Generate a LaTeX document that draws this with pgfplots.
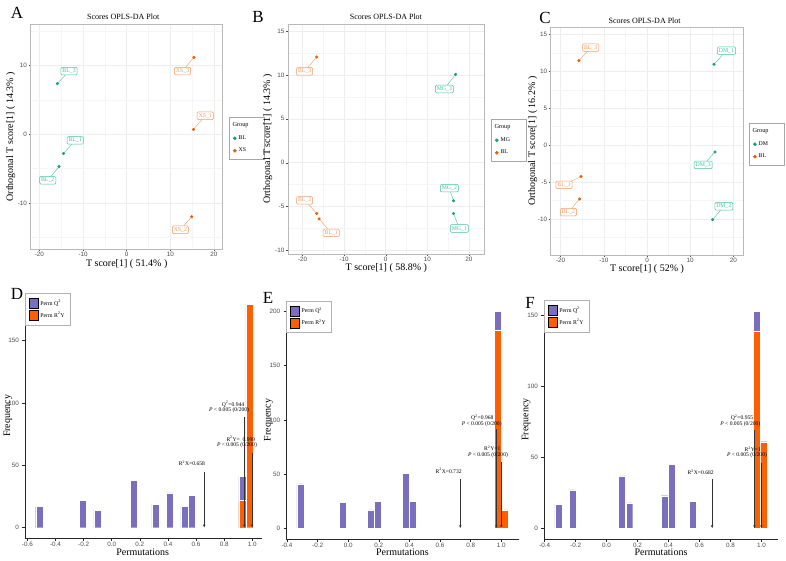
\documentclass[border=0pt]{standalone}
\usepackage{pgfplots}
\pgfplotsset{compat=1.18}
\usepackage{fontspec}
\setmainfont{Liberation Serif}
\newfontfamily\sansf{Liberation Sans}
\usetikzlibrary{arrows.meta}
\definecolor{dteal}{HTML}{1B9E77}
\definecolor{dorange}{HTML}{E2600A}
\definecolor{lteal}{HTML}{45C2A2}
\definecolor{lorange}{HTML}{EE9B62}
\definecolor{hpurple}{HTML}{7A6FBD}
\definecolor{horange}{HTML}{FF5F00}
\newcommand{\ticksf}{\sansf\fontsize{6.3}{7}\selectfont}
\newcommand{\labf}{\fontsize{5.8}{6.5}\selectfont}
\newcommand{\annf}{\fontsize{5.6}{6.5}\selectfont}
\newcommand{\grp}{\hspace*{-6pt}\makebox[27pt][l]{\fontsize{6.2}{7}\selectfont Group}}
\newcommand{\lab}[6]{%
  \draw[#1, line width=0.4pt] (axis cs:#2,#3) -- (axis cs:#4,#5);
  \node[draw=#1, text=#1, fill=white, rounded corners=1.2pt, inner sep=1.5pt, line width=0.5pt, font=\labf] at (axis cs:#4,#5) {#6};}
\newcommand{\arr}[3]{\draw[-{Latex[length=3pt,width=2.6pt]}, black!80, line width=0.8pt] (axis cs:#1,#2) -- (axis cs:#1,#3);}
\pgfplotsset{
  every axis title shift=0pt,
  scat/.style={scale only axis, anchor=south west, clip=false,
    axis line style={gray!55, line width=0.9pt},
    grid=both, major grid style={gray!14, line width=0.5pt}, minor grid style={gray!8, line width=0.3pt},
    minor tick length=0pt, major tick length=2pt, tick align=outside, tick pos=left,
    tick style={gray!60!black, line width=0.4pt},
    tick label style={font=\ticksf, text=gray!60!black},
    xticklabel style={inner sep=0.5pt}, yticklabel style={inner sep=1.5pt},
    /pgf/number format/assume math mode=true,
    xtick={-20,-10,0,10,20}, minor xtick={-15,-5,5,15},
    label style={font=\fontsize{6.8}{8}\selectfont},
    title style={font=\fontsize{8}{9}\selectfont, anchor=center},
    legend image code/.code={\fill[#1] (2.5pt,0pt) circle (1.5pt);},
    legend style={anchor=north west, draw=gray!70, line width=0.6pt, font=\fontsize{5.8}{6.5}\selectfont,
      inner xsep=3pt, inner ysep=3.5pt, row sep=3.2pt, /tikz/every even column/.append style={column sep=2pt}},
    legend cell align=left,
  },
  hist/.style={scale only axis, anchor=south west, clip=false,
    axis x line=bottom, axis y line=left, axis line style={-, black!85, line width=0.7pt},
    major tick length=2.5pt, tick align=outside,
    tick style={black!85, line width=0.6pt},
    tick label style={font=\ticksf, text=black!70},
    xticklabel style={inner sep=1.5pt, /pgf/number format/.cd, fixed, fixed zerofill, precision=1},
    /pgf/number format/assume math mode=true,
    xlabel=Permutations, ylabel=Frequency,
    label style={font=\fontsize{7.5}{9}\selectfont},
    legend image code/.code={\fill[#1] (0pt,-5pt) rectangle (9pt,5pt);},
    legend style={at={(0,1)}, anchor=north west, draw=gray!60, line width=0.6pt, font=\fontsize{5.8}{6.5}\selectfont,
      inner xsep=3.5pt, inner ysep=4.5pt, row sep=1.2pt, /tikz/every even column/.append style={column sep=2.5pt}},
    legend cell align=left,
  },
  hbar/.style={forget plot, ybar, bar shift=0pt, draw=white, line width=0.3pt},
}
\begin{document}
\begin{tikzpicture}[x=1pt,y=1pt]
\path[use as bounding box] (0,0) rectangle (786,-561);
% ---------- A ----------
\begin{axis}[scat, at={(30.7pt,-249.3pt)}, width=192pt, height=225.3pt,
  xmin=-22, xmax=22, ymin=-16.75, ymax=16.06,
  ytick={-10,0,10}, minor ytick={-15,-5,5,15},
  title={Scores OPLS-DA Plot}, title style={at={(axis description cs:0.482,1.031)}},
  xlabel={T score[1] ( 51.4\% )}, ylabel={Orthogonal T score[1] ( 14.3\% )},
  every axis x label/.style={at={(axis description cs:0.5,-0.045)}, anchor=north, inner sep=0pt},
  every axis y label/.style={at={(axis description cs:-0.079,0.5)}, anchor=south, rotate=90, inner sep=0pt},
  legend style={at={(1.033,0.587)}}]
\addlegendimage{empty legend}\addlegendentry{\grp}
\addlegendimage{color=dteal, fill=dteal}\addlegendentry{BL}
\addlegendimage{color=dorange, fill=dorange}\addlegendentry{XS}
\addplot[forget plot, only marks, mark=*, mark size=1.35pt, dteal] coordinates {(-15.9,7.37) (-14.5,-2.8) (-15.5,-4.7)};
\addplot[forget plot, only marks, mark=*, mark size=1.35pt, dorange] coordinates {(15.4,11.2) (15.3,0.7) (14.9,-12.0)};
\lab{lteal}{-15.9}{7.37}{-13.2}{9.2}{BL\_3}
\lab{lteal}{-14.5}{-2.8}{-11.8}{-0.9}{BL\_1}
\lab{lteal}{-15.5}{-4.7}{-18.1}{-6.7}{BL\_2}
\lab{lorange}{15.4}{11.2}{12.8}{9.2}{XS\_3}
\lab{lorange}{15.3}{0.7}{18.0}{2.7}{XS\_1}
\lab{lorange}{14.9}{-12.0}{12.3}{-13.9}{XS\_2}
\end{axis}
% ---------- B ----------
\begin{axis}[scat, at={(288pt,-254pt)}, width=196.7pt, height=230pt,
  xmin=-23.5, xmax=23.8, ymin=-10.4, ymax=15.8,
  ytick={-10,-5,0,5,10,15}, minor ytick={-7.5,-2.5,2.5,7.5,12.5},
  title={Scores OPLS-DA Plot}, title style={at={(axis description cs:0.498,1.032)}},
  xlabel={T score[1] ( 58.8\% )}, ylabel={Orthogonal T score[1] ( 14.3\% )},
  every axis x label/.style={at={(axis description cs:0.5,-0.040)}, anchor=north, inner sep=0pt},
  every axis y label/.style={at={(axis description cs:-0.079,0.5)}, anchor=south, rotate=90, inner sep=0pt},
  legend style={at={(1.032,0.587)}}]
\addlegendimage{empty legend}\addlegendentry{\grp}
\addlegendimage{color=dteal, fill=dteal}\addlegendentry{MG}
\addlegendimage{color=dorange, fill=dorange}\addlegendentry{BL}
\addplot[forget plot, only marks, mark=*, mark size=1.35pt, dteal] coordinates {(16.8,10.07) (16.3,-4.34) (16.3,-5.78)};
\addplot[forget plot, only marks, mark=*, mark size=1.35pt, dorange] coordinates {(-16.6,12.04) (-16.6,-5.78) (-16.0,-6.4)};
\lab{lorange}{-16.6}{12.04}{-19.5}{10.4}{BL\_3}
\lab{lteal}{16.8}{10.07}{14.1}{8.4}{MG\_3}
\lab{lteal}{16.3}{-4.34}{15.3}{-2.9}{MG\_2}
\lab{lteal}{16.3}{-5.78}{17.7}{-7.5}{MG\_1}
\lab{lorange}{-16.6}{-5.78}{-19.5}{-4.3}{BL\_2}
\lab{lorange}{-16.0}{-6.4}{-13.1}{-8.0}{BL\_1}
\end{axis}
% ---------- C ----------
\begin{axis}[scat, at={(550.7pt,-255pt)}, width=192.6pt, height=227.7pt,
  xmin=-22.3, xmax=22.3, ymin=-14.9, ymax=15.95,
  ytick={-10,-5,0,5,10,15}, minor ytick={-12.5,-7.5,-2.5,2.5,7.5,12.5},
  title={Scores OPLS-DA Plot}, title style={at={(axis description cs:0.488,1.029)}},
  xlabel={T score[1] ( 52\% )}, ylabel={Orthogonal T score[1] ( 16.2\% )},
  every axis x label/.style={at={(axis description cs:0.5,-0.039)}, anchor=north, inner sep=0pt},
  every axis y label/.style={at={(axis description cs:-0.069,0.5)}, anchor=south, rotate=90, inner sep=0pt},
  legend style={at={(1.030,0.580)}}]
\addlegendimage{empty legend}\addlegendentry{\grp}
\addlegendimage{color=dteal, fill=dteal}\addlegendentry{DM}
\addlegendimage{color=dorange, fill=dorange}\addlegendentry{BL}
\addplot[forget plot, only marks, mark=*, mark size=1.35pt, dteal] coordinates {(15.5,10.94) (15.74,-0.95) (15.2,-10.1)};
\addplot[forget plot, only marks, mark=*, mark size=1.35pt, dorange] coordinates {(-15.76,11.43) (-15.3,-4.27) (-15.6,-7.3)};
\lab{lorange}{-15.76}{11.43}{-13.05}{13.2}{BL\_3}
\lab{lorange}{-15.3}{-4.27}{-19.2}{-5.4}{BL\_1}
\lab{lorange}{-15.6}{-7.3}{-18.2}{-9.1}{BL\_2}
\lab{lteal}{15.5}{10.94}{18.4}{12.8}{DM\_1}
\lab{lteal}{15.74}{-0.95}{13.0}{-2.7}{DM\_3}
\lab{lteal}{15.2}{-10.1}{17.8}{-8.3}{DM\_2}
\end{axis}
% ---------- D ----------
\begin{axis}[hist, at={(25pt,-538.3pt)}, width=236.7pt, height=245pt,
  xmin=-0.617, xmax=1.067, ymin=-8.5, ymax=188,
  xtick={-0.6,-0.4,-0.2,0,0.2,0.4,0.6,0.8,1.0}, ytick={0,50,100,150},
  every axis x label/.style={at={(axis description cs:0.497,-0.044)}, anchor=north, inner sep=0pt},
  every axis y label/.style={at={(axis description cs:-0.053,0.5)}, anchor=south, rotate=90, inner sep=0pt}]
\addlegendimage{fill=hpurple}\addlegendentry{Perm Q\textsuperscript{2}}
\addlegendimage{fill=horange}\addlegendentry{Perm R\textsuperscript{2}Y}
\addplot[hbar, bar width=0.0516, fill=hpurple] coordinates {(-0.515,17) (-0.205,22) (-0.102,14) (0.156,38) (0.311,19) (0.414,28) (0.517,17) (0.569,26) (0.930,41)};
\addplot[hbar, bar width=0.0516, fill=horange] coordinates {(0.930,22) (0.981,179)};
\arr{0.658}{44.4}{0}
\arr{0.944}{89}{0}
\arr{0.999}{59.7}{0}
\node[font=\annf] at (axis cs:0.571,51.6) {R\textsuperscript{2}X=0.658};
\node[font=\annf] at (axis cs:0.863,99) {Q\textsuperscript{2}=0.944};
\node[font=\annf] at (axis cs:0.835,94) {\textit{P} < 0.005 (0/200)};
\node[font=\annf] at (axis cs:0.919,71.4) {R\textsuperscript{2}Y=\ \ 0.999};
\node[font=\annf] at (axis cs:0.891,66) {\textit{P} < 0.005 (0/200)};
\end{axis}
% ---------- E ----------
\begin{axis}[hist, at={(286.2pt,-539.1pt)}, width=232.4pt, height=238.3pt,
  xmin=-0.405, xmax=1.113, ymin=-10, ymax=210,
  xtick={-0.4,-0.2,0,0.2,0.4,0.6,0.8,1.0}, ytick={0,50,100,150,200},
  every axis x label/.style={at={(axis description cs:0.5,-0.0415)}, anchor=north, inner sep=0pt},
  every axis y label/.style={at={(axis description cs:-0.057,0.5)}, anchor=south, rotate=90, inner sep=0pt}]
\addlegendimage{fill=hpurple}\addlegendentry{Perm Q\textsuperscript{2}}
\addlegendimage{fill=horange}\addlegendentry{Perm R\textsuperscript{2}Y}
\addplot[hbar, bar width=0.046, fill=hpurple] coordinates {(-0.312,41) (-0.036,24) (0.148,17) (0.194,25) (0.378,51) (0.424,25) (0.976,200)};
\addplot[hbar, bar width=0.046, fill=horange] coordinates {(0.976,183) (1.022,17)};
\arr{0.732}{45.5}{0}
\arr{0.968}{91.7}{0}
\arr{1.0}{61}{0}
\node[font=\annf] at (axis cs:0.656,52.9) {R\textsuperscript{2}X=0.732};
\node[font=\annf] at (axis cs:0.876,102) {Q\textsuperscript{2}=0.968};
\node[font=\annf] at (axis cs:0.872,96) {\textit{P} < 0.005 (0/200)};
\node[font=\annf] at (axis cs:0.941,73.8) {R\textsuperscript{2}Y=1};
\node[font=\annf] at (axis cs:0.913,67.7) {\textit{P} < 0.005 (0/200)};
\end{axis}
% ---------- F ----------
\begin{axis}[hist, at={(543.9pt,-539.2pt)}, width=234.2pt, height=239.1pt,
  xmin=-0.405, xmax=1.108, ymin=-7.65, ymax=160.7,
  xtick={-0.4,-0.2,0,0.2,0.4,0.6,0.8,1.0}, ytick={0,50,100,150},
  every axis x label/.style={at={(axis description cs:0.5,-0.041)}, anchor=north, inner sep=0pt},
  every axis y label/.style={at={(axis description cs:-0.056,0.5)}, anchor=south, rotate=90, inner sep=0pt}]
\addlegendimage{fill=hpurple}\addlegendentry{Perm Q\textsuperscript{2}}
\addlegendimage{fill=horange}\addlegendentry{Perm R\textsuperscript{2}Y}
\addplot[hbar, bar width=0.0457, fill=hpurple] coordinates {(-0.311,17) (-0.220,27) (0.100,37) (0.146,18) (0.375,23) (0.421,45) (0.558,19) (0.970,153)};
\addplot[hbar, bar width=0.0457, fill=horange] coordinates {(0.970,139) (1.015,61)};
\arr{0.682}{34.7}{0}
\arr{0.955}{69.2}{0}
\arr{1.0}{46.2}{0}
\node[font=\annf] at (axis cs:0.608,39.5) {R\textsuperscript{2}X=0.682};
\node[font=\annf] at (axis cs:0.875,77.9) {Q\textsuperscript{2}=0.955};
\node[font=\annf] at (axis cs:0.864,73.2) {\textit{P} < 0.005 (0/200)};
\node[font=\annf] at (axis cs:0.944,55.8) {R\textsuperscript{2}Y=1};
\node[font=\annf] at (axis cs:0.907,51.6) {\textit{P} < 0.005 (0/200)};
\end{axis}
% ---------- panel letters ----------
\node[font=\fontsize{17}{18}\selectfont] at (17pt,-12.5pt) {A};
\node[font=\fontsize{17}{18}\selectfont] at (258pt,-17pt) {B};
\node[font=\fontsize{17}{18}\selectfont] at (545pt,-18pt) {C};
\node[font=\fontsize{17}{18}\selectfont] at (17pt,-294pt) {D};
\node[font=\fontsize{17}{18}\selectfont] at (268pt,-297.5pt) {E};
\node[font=\fontsize{17}{18}\selectfont] at (530pt,-303pt) {F};
\end{tikzpicture}
\end{document}
